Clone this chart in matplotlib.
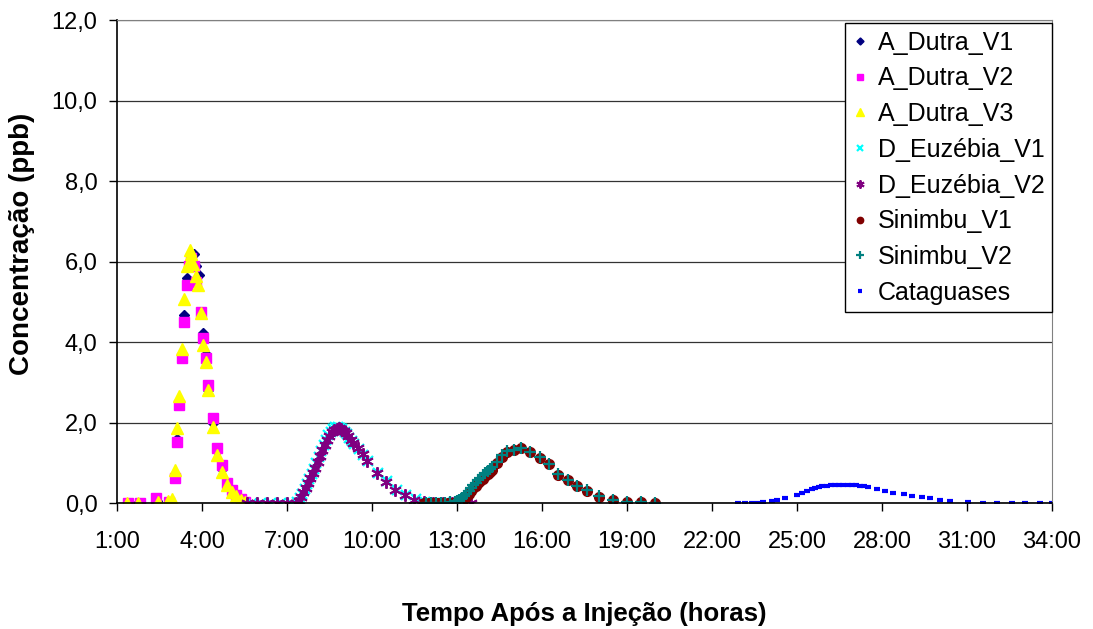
import numpy as np
import matplotlib
matplotlib.use("Agg")
import matplotlib.pyplot as plt
from matplotlib.ticker import FuncFormatter, FixedLocator, MultipleLocator

plt.rcParams['font.family'] = ['Liberation Sans', 'DejaVu Sans']

# Tempo (horas) e concentracao (ppb) de cada estacao
t_dutra_v1 = [1.39, 1.75, 2.40, 2.84, 3.05, 3.13, 3.20, 3.28, 3.36, 3.46, 3.54, 3.63, 3.72, 3.80, 3.90,
              4.05, 4.13, 4.20, 4.38, 4.52, 4.70, 4.87, 5.05, 5.20, 5.37, 5.52]
c_dutra_v1 = [0.0, 0.0, 0.05, 0.02, 0.70, 1.60, 2.50, 3.70, 4.67, 5.60, 6.00, 6.15, 6.20, 5.90, 5.67,
              4.22, 3.70, 2.80, 2.00, 1.30, 0.85, 0.48, 0.30, 0.18, 0.08, 0.03]

t_dutra_v2 = [1.39, 1.81, 2.38, 2.84, 3.05, 3.13, 3.20, 3.28, 3.36, 3.46, 3.54, 3.63, 3.72, 3.79,
              3.95, 4.05, 4.13, 4.20, 4.38, 4.52, 4.70, 4.87, 5.05, 5.20, 5.37, 5.52]
c_dutra_v2 = [0.0, 0.0, 0.13, 0.03, 0.62, 1.52, 2.43, 3.61, 4.50, 5.42, 5.90, 6.10, 5.90, 5.50,
              4.75, 4.10, 3.61, 2.93, 2.11, 1.37, 0.94, 0.50, 0.33, 0.20, 0.10, 0.04]

t_dutra_v3 = [1.34, 1.75, 2.46, 2.81, 2.93, 3.05, 3.13, 3.20, 3.28, 3.36, 3.47, 3.54, 3.58, 3.63, 3.70,
              3.79, 3.85, 3.95, 4.05, 4.13, 4.20, 4.38, 4.52, 4.70, 4.87, 5.05, 5.20, 5.37, 5.52]
c_dutra_v3 = [0.0, 0.0, 0.02, 0.05, 0.10, 0.82, 1.86, 2.66, 3.82, 5.07, 5.90, 6.00, 6.28, 6.20, 5.95,
              5.64, 5.42, 4.73, 3.93, 3.51, 2.80, 1.90, 1.19, 0.78, 0.45, 0.29, 0.17, 0.07, 0.03]

t_euz_v1 = [5.75, 6.10, 6.45, 6.80, 7.15, 7.37, 7.45, 7.54, 7.62, 7.70, 7.79, 7.87, 7.95, 8.04, 8.12,
            8.20, 8.29, 8.37, 8.45, 8.54, 8.62, 8.70, 8.79, 8.87, 8.95, 9.04, 9.12, 9.20, 9.29, 9.37,
            9.54, 9.70, 9.87, 10.20, 10.54, 10.87, 11.20, 11.54, 11.87, 12.20, 12.54, 12.87, 13.20]
c_euz_v1 = [0.0, 0.0, 0.0, 0.0, 0.0, 0.04, 0.12, 0.24, 0.36, 0.48, 0.60, 0.73, 0.86, 1.00, 1.15,
            1.30, 1.44, 1.57, 1.69, 1.78, 1.85, 1.89, 1.90, 1.88, 1.84, 1.78, 1.71, 1.63, 1.55, 1.47,
            1.35, 1.20, 1.04, 0.76, 0.54, 0.34, 0.21, 0.10, 0.04, 0.01, 0.0, 0.0, 0.0]

t_euz_v2 = [5.60, 5.95, 6.30, 6.65, 7.00, 7.33, 7.42, 7.50, 7.58, 7.67, 7.75, 7.83, 7.92, 8.00, 8.08,
            8.17, 8.25, 8.33, 8.42, 8.50, 8.58, 8.67, 8.75, 8.83, 8.92, 9.00, 9.08, 9.17, 9.25, 9.33,
            9.50, 9.67, 9.83, 10.17, 10.50, 10.83, 11.17, 11.50, 11.83, 12.17, 12.50, 12.83, 13.17, 13.50]
c_euz_v2 = [0.0, 0.0, 0.0, 0.0, 0.0, 0.0, 0.05, 0.15, 0.27, 0.38, 0.50, 0.62, 0.74, 0.87, 1.02,
            1.17, 1.32, 1.45, 1.58, 1.68, 1.76, 1.82, 1.85, 1.86, 1.84, 1.80, 1.74, 1.66, 1.58, 1.50,
            1.38, 1.22, 1.05, 0.75, 0.53, 0.33, 0.20, 0.09, 0.03, 0.01, 0.0, 0.0, 0.0, 0.0]

t_sin_v1 = [11.83, 12.00, 12.17, 12.33, 12.50, 12.67, 12.83, 13.00, 13.08, 13.17, 13.25, 13.33, 13.42,
            13.50, 13.58, 13.67, 13.75, 13.83, 13.92, 14.00, 14.08, 14.17, 14.25, 14.42, 14.58, 14.75,
            15.00, 15.25, 15.58, 15.92, 16.25, 16.58, 16.92, 17.25, 17.58, 18.00, 18.50, 19.00, 19.50, 20.00]
c_sin_v1 = [0.0, 0.0, 0.0, 0.0, 0.0, 0.0, 0.0, 0.0, 0.02, 0.05, 0.10, 0.16, 0.23,
            0.30, 0.37, 0.43, 0.49, 0.55, 0.61, 0.67, 0.72, 0.77, 0.82, 1.00, 1.16, 1.27,
            1.32, 1.36, 1.27, 1.13, 0.97, 0.70, 0.57, 0.42, 0.31, 0.16, 0.09, 0.04, 0.02, 0.0]

t_sin_v2 = [11.90, 12.08, 12.25, 12.42, 12.58, 12.75, 12.92, 13.00, 13.08, 13.17, 13.25, 13.33, 13.42,
            13.50, 13.58, 13.67, 13.75, 13.83, 13.92, 14.00, 14.08, 14.17, 14.25, 14.42, 14.58, 14.75,
            15.00, 15.25, 15.58, 15.92, 16.25, 16.58, 16.92, 17.25, 17.58, 18.00, 18.50, 19.00, 19.50, 20.00]
c_sin_v2 = [0.0, 0.0, 0.0, 0.0, 0.0, 0.02, 0.04, 0.06, 0.09, 0.13, 0.18, 0.24, 0.31,
            0.38, 0.45, 0.51, 0.57, 0.63, 0.69, 0.74, 0.79, 0.84, 0.89, 1.03, 1.19, 1.30,
            1.33, 1.37, 1.27, 1.14, 0.97, 0.72, 0.57, 0.42, 0.32, 0.17, 0.09, 0.04, 0.02, 0.0]

t_catag = [22.92, 23.17, 23.41, 23.63, 23.81, 24.11, 24.28, 24.58, 25.01, 25.17, 25.35, 25.52, 25.64,
           25.76, 25.90, 26.05, 26.20, 26.34, 26.49, 26.64, 26.79, 26.93, 27.08, 27.23, 27.37, 27.52,
           27.82, 28.11, 28.40, 28.76, 29.07, 29.40, 29.70, 30.05, 30.40, 31.05, 31.58, 32.05, 32.58,
           33.05, 33.58, 34.00]
c_catag = [0.0, 0.0, 0.01, 0.01, 0.02, 0.05, 0.07, 0.12, 0.21, 0.26, 0.31, 0.36, 0.38,
           0.40, 0.42, 0.43, 0.44, 0.45, 0.45, 0.45, 0.45, 0.45, 0.44, 0.43, 0.42, 0.40,
           0.36, 0.31, 0.26, 0.23, 0.19, 0.16, 0.14, 0.07, 0.05, 0.02, 0.01, 0.0, 0.0,
           0.0, 0.0, 0.0]

hour_ticks = list(range(1, 35, 3))

fig = plt.figure(figsize=(10.93, 6.29), dpi=100)
ax = fig.add_axes([0.107, 0.2, 0.8555, 0.768])

ax.plot(t_dutra_v1, c_dutra_v1, ls='', marker='D', ms=5.5, color='#000080', mec='#000080', label='A_Dutra_V1')
ax.plot(t_dutra_v2, c_dutra_v2, ls='', marker='s', ms=7, color='#FF00FF', mec='#FF00FF', label='A_Dutra_V2')
ax.plot(t_dutra_v3, c_dutra_v3, ls='', marker='^', ms=8.5, color='#FFFF00', mec='#FFFF00', label='A_Dutra_V3')
ax.plot(t_euz_v1, c_euz_v1, ls='', marker='x', ms=7, mew=1.6, color='#00FFFF', label='D_Euzébia_V1')
ax.plot(t_euz_v2, c_euz_v2, ls='', marker=(6, 2, 0), ms=9, mew=1.4, color='#800080', label='D_Euzébia_V2')
ax.plot(t_sin_v1, c_sin_v1, ls='', marker='o', ms=7, color='#800000', mec='#800000', label='Sinimbu_V1')
ax.plot(t_sin_v2, c_sin_v2, ls='', marker='+', ms=8, mew=1.6, color='#008080', label='Sinimbu_V2')
ax.plot(t_catag, c_catag, ls='', marker='_', ms=5, mew=3, color='#0000FF', label='Cataguases')

ax.set_xlim(1, 34)
ax.set_ylim(0, 12)
ax.xaxis.set_major_locator(FixedLocator(hour_ticks))
ax.yaxis.set_major_locator(MultipleLocator(2))
ax.xaxis.set_major_formatter(FuncFormatter(lambda v, p: "{}:00".format(int(round(v)))))
ax.yaxis.set_major_formatter(FuncFormatter(lambda v, p: "{:.1f}".format(v).replace('.', ',')))
ax.tick_params(axis='both', direction='out', length=6, width=1, labelsize=17, color='black')
ax.tick_params(axis='x', pad=14)
ax.tick_params(axis='y', pad=8)

ax.yaxis.grid(True, color='#333333', lw=0.9)
ax.set_axisbelow(True)
for s in ['top', 'right']:
    ax.spines[s].set_color('#808080')
for s in ['left', 'bottom']:
    ax.spines[s].set_color('black')
    ax.spines[s].set_linewidth(1.2)

ax.set_xlabel("Tempo Após a Injeção (horas)", fontsize=18.5, fontweight='bold')
ax.set_ylabel("Concentração (ppb)", fontsize=20, fontweight='bold')
ax.xaxis.set_label_coords(0.5, -0.205)
ax.yaxis.set_label_coords(-0.088, 0.537)

leg = ax.legend(loc='upper right', bbox_to_anchor=(1.0, 0.994), borderaxespad=0, fontsize=18,
                frameon=True, fancybox=False, framealpha=1, edgecolor='black',
                handlelength=0.6, handletextpad=0.4, labelspacing=0.47, markerscale=0.65,
                borderpad=0.3)
leg.get_frame().set_linewidth(1.0)

fig.savefig("out.png", dpi=100)
